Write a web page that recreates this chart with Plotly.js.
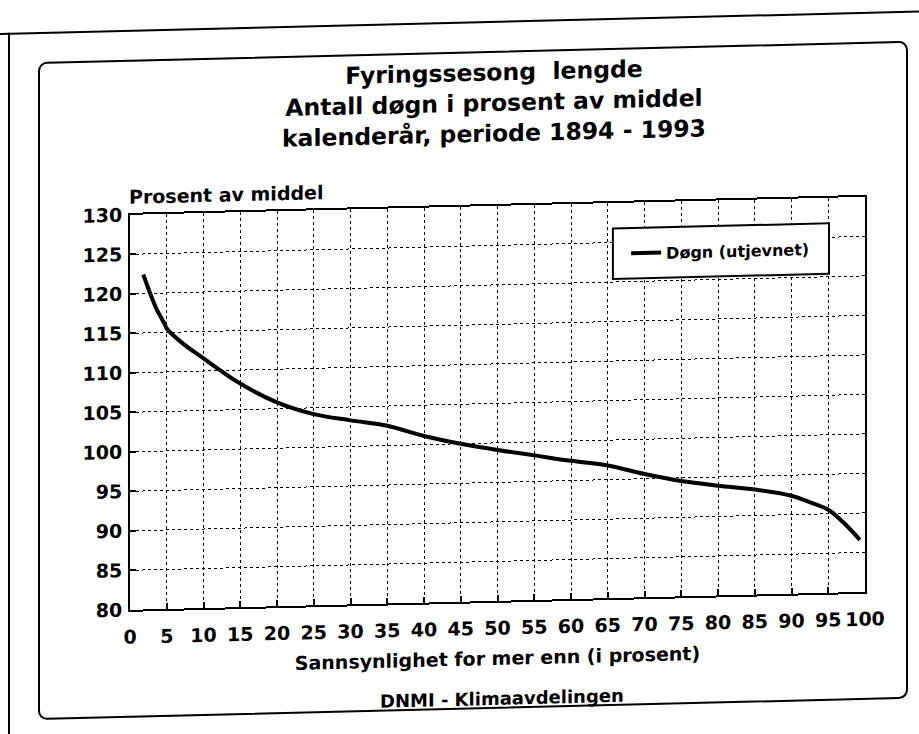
<!DOCTYPE html>
<html>
<head>
<meta charset="utf-8">
<script src="https://cdn.plot.ly/plotly-3.0.1.min.js"></script>
<style>
  html, body { margin: 0; padding: 0; background: #ffffff; }
  #page { position: relative; width: 919px; height: 734px; overflow: hidden; background: #ffffff; }
  #sheet { position: absolute; left: 0; top: 0; width: 919px; height: 760px;
           transform: skewY(-1.4deg); transform-origin: 0 0; }
  .rule { position: absolute; background: #000; }
  #frame { position: absolute; left: 38px; top: 63px; width: 866px; height: 654px;
           border: 2px solid #000; border-radius: 9px; }
  #chart { position: absolute; left: 0; top: 0; width: 919px; height: 734px; }
</style>
</head>
<body>
<div id="page">
  <div id="sheet">
    <div class="rule" style="left:0px; top:33px; width:919px; height:2px;"></div>
    <div class="rule" style="left:8px; top:33px; width:2px; height:730px;"></div>
    <div id="frame"></div>
    <div id="chart"></div>
  </div>
</div>
<script>
// ---- data ----
const probMoreThan = [1.8, 2.7, 3.6, 4.7, 5, 7, 10, 15, 20, 25, 30, 35, 40, 45, 50, 55, 60, 65, 70, 75, 80, 85, 90, 92, 95, 97, 99.3];
const pctOfMean    = [122.4, 120.1, 118.0, 116.1, 115.5, 113.7, 111.6, 108.3, 105.8, 104.2, 103.3, 102.5, 101.1, 100.0, 99.1, 98.3, 97.5, 96.8, 95.6, 94.6, 93.9, 93.3, 92.4, 91.7, 90.5, 88.9, 86.6];
const xTickVals = [0, 5, 10, 15, 20, 25, 30, 35, 40, 45, 50, 55, 60, 65, 70, 75, 80, 85, 90, 95, 100];
const yTickVals = [80, 85, 90, 95, 100, 105, 110, 115, 120, 125, 130];
const seriesName = "Døgn (utjevnet)";
const titleLines = ["Fyringssesong  lengde", "Antall døgn i prosent av middel", "kalenderår, periode 1894 - 1993"];
const yAxisLabel = "Prosent av middel";
const xAxisLabel = "Sannsynlighet for mer enn (i prosent)";
const footerText = "DNMI - Klimaavdelingen";

const FONT = "DejaVu Sans";

const trace = {
  x: probMoreThan,
  y: pctOfMean,
  type: "scatter",
  mode: "lines",
  name: seriesName,
  line: { color: "#000", width: 4, shape: "spline", smoothing: 1 },
  showlegend: true
};

const axisCommon = {
  showline: true, mirror: true, linecolor: "#000", linewidth: 2,
  showgrid: true, gridcolor: "#000", gridwidth: 1, griddash: "dot",
  zeroline: false, ticks: "inside", ticklen: 6, tickwidth: 2, tickcolor: "#000",
  tickfont: { family: FONT, size: 19, color: "#000", weight: "bold" },
  fixedrange: true
};

const layout = {
  width: 919, height: 734,
  paper_bgcolor: "rgba(0,0,0,0)", plot_bgcolor: "rgba(0,0,0,0)",
  margin: { l: 130, r: 54, t: 218, b: 121 },
  font: { family: FONT, color: "#000" },
  title: {
    text: titleLines.join("<br>"),
    font: { family: FONT, size: 23.5, color: "#000", weight: "bold" },
    xref: "container", yref: "container",
    x: 0.5375, xanchor: "center", y: 0.874, yanchor: "middle"
  },
  xaxis: Object.assign({}, axisCommon, {
    range: [0, 100], tickmode: "array", tickvals: xTickVals,
    ticklabelstandoff: 9,
    title: { text: xAxisLabel, standoff: 14,
             font: { family: FONT, size: 19, color: "#000", weight: "bold" } }
  }),
  yaxis: Object.assign({}, axisCommon, {
    range: [80, 130], tickmode: "array", tickvals: yTickVals,
    ticklabelstandoff: 2
  }),
  legend: {
    x: 0.675, xanchor: "left", y: 0.8715, yanchor: "middle",
    bgcolor: "rgba(0,0,0,0)", borderwidth: 0,
    font: { family: FONT, size: 16, color: "#000", weight: "bold" }
  },
  shapes: [{
    type: "rect", xref: "paper", yref: "paper",
    x0: 0.657, x1: 0.951, y0: 0.8076, y1: 0.9354,
    line: { color: "#000", width: 2 }, fillcolor: "#fff", layer: "above"
  }],
  annotations: [
    { text: yAxisLabel, xref: "paper", yref: "paper", x: 0, y: 1,
      xanchor: "left", yanchor: "middle", xshift: -3, yshift: 18, showarrow: false,
      font: { family: FONT, size: 19, color: "#000", weight: "bold" } },
    { text: footerText, xref: "paper", yref: "paper", x: 0.506, y: 0,
      xanchor: "center", yanchor: "middle", yshift: -97, showarrow: false,
      font: { family: FONT, size: 18, color: "#000", weight: "bold" } }
  ]
};

Plotly.newPlot("chart", [trace], layout, { displayModeBar: false, staticPlot: true });
</script>
</body>
</html>
